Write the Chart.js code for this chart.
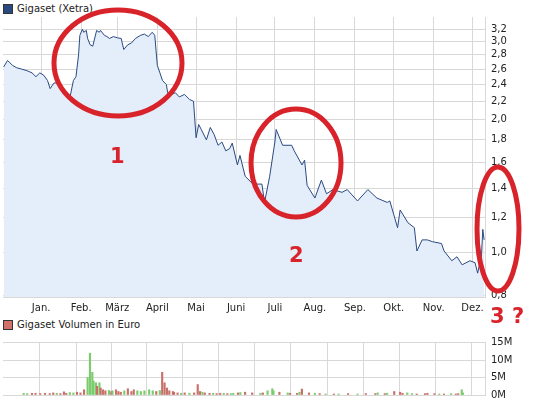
<!DOCTYPE html>
<html><head><meta charset="utf-8">
<script src="https://cdn.jsdelivr.net/npm/chart.js@4"></script>
<style>
body{margin:0;width:542px;height:407px;background:#fff;position:relative;overflow:hidden;font-family:"DejaVu Sans",sans-serif}
.lg{position:absolute;left:3px;font-size:10px;color:#222;display:flex;align-items:center}
.lg span{display:inline-block;width:8px;height:8px;border:1px solid #333;margin-right:4px}
canvas{position:absolute;left:0}
svg{position:absolute;left:0;top:0}
</style></head><body>
<div class="lg" style="top:3px"><span style="background:#2a4a7f"></span>Gigaset (Xetra)</div>
<div class="lg" style="top:319px"><span style="background:#d0706a"></span>Gigaset Volumen in Euro</div>
<div style="position:absolute;left:0;top:0;width:542px;height:320px"><canvas id="c1"></canvas></div>
<div style="position:absolute;left:0;top:330px;width:542px;height:77px"><canvas id="c2"></canvas></div>
<svg width="542" height="407">
<g fill="none" stroke="#d8232a" stroke-width="5">
<ellipse cx="118" cy="63" rx="64" ry="53"/>
<ellipse cx="296" cy="163" rx="45" ry="54"/>
<ellipse cx="498" cy="229" rx="21" ry="62"/>
</g>
<g fill="#d8232a" font-family="DejaVu Sans" font-weight="bold" font-size="21">
<text x="110" y="163">1</text>
<text x="289" y="262">2</text>
<text x="490" y="323">3 ?</text>
</g>
</svg>
<script>
const monthLabels=["Jan.","Feb.","März","April","Mai","Juni","Juli","Aug.","Sep.","Okt.","Nov.","Dez."];
const monthDays=[0,31,59,90,120,151,181,212,243,273,304,334];
const yTicks=[0.8,1.0,1.2,1.4,1.6,1.8,2.0,2.2,2.4,2.6,2.8,3.0,3.2];
const days=[-29,-26,-22,-19,-15,-11,-7,-4,-1,2,5,7,10,13,16,19,22,25,27,29,30,32,33,35,36,38,40,43,45,46,49,51,53,56,59,62,64,67,70,73,77,80,83,86,88,90,92,94,97,98,101,104,107,111,115,118,120,122,124,128,131,134,137,140,143,146,148,152,154,158,164,171,173,177,181,182,187,194,196,202,204,206,212,217,221,226,233,237,245,253,260,268,270,276,278,284,289,291,295,299,303,310,312,318,322,326,332,336,338,341,342,343];
const prices=[2.63,2.72,2.65,2.62,2.60,2.58,2.55,2.50,2.55,2.52,2.45,2.35,2.42,2.42,2.35,2.30,2.22,2.45,2.50,2.80,3.10,3.20,3.15,3.18,3.05,2.95,2.93,3.18,3.15,3.18,3.10,3.08,3.05,3.08,3.06,3.05,2.88,2.95,2.98,3.05,3.10,3.12,3.08,3.15,3.10,2.65,2.55,2.45,2.40,2.30,2.28,2.30,2.25,2.28,2.22,2.20,1.82,1.95,1.90,1.80,1.92,1.85,1.75,1.78,1.70,1.72,1.77,1.58,1.66,1.49,1.43,1.43,1.30,1.49,1.78,1.90,1.75,1.75,1.70,1.58,1.62,1.42,1.33,1.46,1.36,1.39,1.37,1.39,1.31,1.39,1.33,1.30,1.31,1.14,1.25,1.17,1.14,1.01,1.07,1.07,1.06,1.05,1.01,0.96,0.98,0.94,0.96,0.95,0.90,0.99,1.13,1.07];
const volumes=[0.5,0.4,0.5,0.5,0.4,0.5,0.4,0.6,0.5,0.4,0.9,0.5,0.7,0.6,0.8,0.6,1.5,5.0,12.0,6.5,4.0,3.5,2.5,3.5,2.0,1.5,1.2,1.3,1.0,1.2,1.5,1.0,0.8,1.2,1.8,1.0,1.5,1.2,1.0,1.2,1.5,1.2,1.0,1.3,6.5,3.5,2.0,1.2,1.0,0.8,0.6,0.5,0.6,0.5,0.6,3.0,1.0,0.8,0.6,0.5,0.5,0.4,0.5,0.5,0.4,0.4,0.5,0.6,0.7,0.8,0.6,0.5,0.6,1.2,1.8,1.2,0.8,0.6,0.5,0.5,0.8,1.7,0.6,0.5,0.4,0.3,0.3,0.3,0.4,0.3,0.4,0.4,0.6,0.4,0.5,1.0,0.8,0.5,0.6,0.4,0.3,0.4,0.5,0.4,0.3,0.3,0.4,0.3,0.4,1.5,0.6];
const grid='#d8d8d8', tickFont={family:'DejaVu Sans',size:10}, tickColor='#222';
const pricePts=days.map((d,i)=>({x:d,y:prices[i]}));
const volPts=days.map((d,i)=>({x:d,y:volumes[i]*1e6}));
const volColors=prices.map((p,i)=>i>0&&p<prices[i-1]?'#c8706a':'#7ccc6e');
new Chart(document.getElementById('c1'),{type:'line',
data:{datasets:[{data:pricePts,borderColor:'#2a4a7f',borderWidth:1,pointRadius:0,tension:0,fill:'start',backgroundColor:'#e4edfa'}]},
options:{responsive:true,maintainAspectRatio:false,animation:false,layout:{padding:{left:3,top:17,right:0}},
plugins:{legend:{display:false},tooltip:{enabled:false}},
scales:{
x:{type:'linear',min:-29.5,max:343.7,grid:{color:grid,drawTicks:false},border:{color:grid},
 afterBuildTicks:s=>{s.ticks=monthDays.map(v=>({value:v}));},
 afterFit:s=>{s.height=23;},
 ticks:{font:tickFont,color:tickColor,padding:5,maxRotation:0,autoSkip:false,callback:(v,i)=>monthLabels[i]}},
y:{type:'logarithmic',position:'right',min:0.795,max:3.41,grid:{color:grid,drawTicks:false},border:{color:grid},
 afterBuildTicks:s=>{s.ticks=yTicks.map(v=>({value:v}));},
 afterFit:s=>{s.width=57;},
 ticks:{font:tickFont,color:tickColor,padding:6,callback:v=>v.toFixed(1).replace('.',',')}}
}}});
new Chart(document.getElementById('c2'),{type:'bar',
data:{datasets:[{data:volPts,backgroundColor:volColors,barThickness:1.5}]},
options:{responsive:true,maintainAspectRatio:false,animation:false,layout:{padding:{left:3,top:4,bottom:2}},
plugins:{legend:{display:false},tooltip:{enabled:false}},
scales:{
x:{type:'linear',min:-29.5,max:343.7,grid:{color:grid,drawTicks:false},border:{color:grid},
 afterBuildTicks:s=>{s.ticks=monthDays.map(v=>({value:v}));},ticks:{display:false}},
y:{position:'right',min:0,max:15.2e6,grid:{color:grid,drawTicks:false},border:{color:grid},
 afterBuildTicks:s=>{s.ticks=[0,5e6,10e6,15e6].map(v=>({value:v}));},
 afterFit:s=>{s.width=57;},
 ticks:{font:tickFont,color:tickColor,padding:6,callback:v=>(v/1e6)+'M'}}
}}});
</script></body></html>
